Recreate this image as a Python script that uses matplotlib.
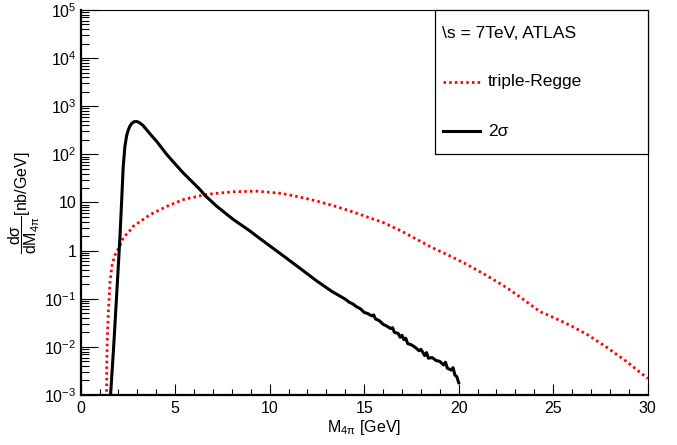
import matplotlib
matplotlib.use("Agg")
import matplotlib.pyplot as plt
from matplotlib.ticker import FixedLocator, LogLocator, NullFormatter, MultipleLocator
from matplotlib.patches import Rectangle
from matplotlib.lines import Line2D

plt.rcParams['font.family'] = ['Liberation Sans', 'DejaVu Sans']
plt.rcParams['mathtext.fontset'] = 'custom'
plt.rcParams['mathtext.rm'] = 'Liberation Sans'
plt.rcParams['mathtext.it'] = 'Liberation Sans'
plt.rcParams['mathtext.sf'] = 'Liberation Sans'

###############################################################################
# Curves (M in GeV, dsigma/dM in nb/GeV)
m_2sigma = [1.58, 1.75, 1.90, 2.08, 2.17, 2.25, 2.34, 2.43, 2.52, 2.61, 2.70,
            2.80, 2.93, 3.04, 3.14, 3.30, 3.49, 3.75, 4.02, 4.55, 5.00, 5.43,
            6.31, 6.58, 7.19, 8.07, 8.96, 9.31, 10.0, 10.72, 11.6, 12.49,
            13.3, 14.0, 14.2, 14.4, 14.6, 14.8, 15.0, 15.2, 15.4, 15.5, 15.6,
            15.8, 16.0, 16.2, 16.4, 16.5, 16.6, 16.8, 16.9, 17.0, 17.1, 17.2,
            17.3, 17.5, 17.7, 17.9, 18.0, 18.2, 18.3, 18.4, 18.6, 18.8, 19.0,
            19.2, 19.3, 19.4, 19.6, 19.7, 19.8, 19.9, 20.0]
xs_2sigma = [1.0e-3, 0.011, 0.115, 2.0, 11.5, 56, 148, 245, 324, 390, 437,
             472, 484, 470, 447, 398, 324, 245, 186, 100, 63, 41,
             18.6, 14.0, 8.4, 4.45, 2.55, 2.0, 1.26, 0.78, 0.43, 0.234,
             0.141, 0.098, 0.085, 0.078, 0.068, 0.062, 0.052, 0.049, 0.044,
             0.046, 0.038, 0.035, 0.0295, 0.0269, 0.024, 0.025, 0.020, 0.019,
             0.0158, 0.0174, 0.0141, 0.0151, 0.0117, 0.011, 0.0098, 0.0083,
             0.0089, 0.0066, 0.0076, 0.0058, 0.006, 0.0052, 0.005, 0.0042,
             0.0048, 0.0036, 0.0033, 0.0037, 0.0026, 0.0024, 0.0018]

m_regge = [1.37, 1.38, 1.41, 1.46, 1.55, 1.65, 1.80, 2.08, 2.25, 2.60, 2.78,
           3.67, 4.55, 5.43, 6.67, 8.07, 9.31, 10.6, 11.5, 12.5, 13.4, 14.25,
           15.1, 16.0, 16.9, 17.8, 18.6, 19.5, 20.5, 21.5, 22.5, 23.3, 24.3,
           25.0, 25.9, 26.8, 27.8, 28.9, 30.0]
xs_regge = [8.9e-4, 0.004, 0.016, 0.05, 0.22, 0.48, 0.79, 1.26, 1.85, 2.6,
            3.2, 5.6, 8.3, 11.5, 14.8, 16.7, 17.2, 15.5, 13.2, 10.7, 8.5,
            6.67, 5.1, 3.84, 2.63, 1.70, 1.15, 0.79, 0.50, 0.30, 0.174, 0.105,
            0.054, 0.041, 0.028, 0.018, 0.010, 0.0049, 0.0022]

y_ticks = [1e-3, 1e-2, 1e-1, 1, 10, 1e2, 1e3, 1e4, 1e5]
y_tick_labels = [r'$10^{-3}$', r'$10^{-2}$', r'$10^{-1}$', '1', '10',
                 r'$10^{2}$', r'$10^{3}$', r'$10^{4}$', r'$10^{5}$']

###############################################################################
fig = plt.figure(figsize=(6.77, 4.45), dpi=100)
ax = fig.add_axes([0.1192, 0.1124, 0.8375, 0.8651])

ax.plot(m_regge, xs_regge, color='red', lw=2.0, linestyle=(0, (0.9, 1.15)),
        dash_capstyle='butt')
ax.plot(m_2sigma, xs_2sigma, color='black', lw=2.2)

ax.set_yscale('log')
ax.set_xlim(0, 30)
ax.set_ylim(1e-3, 1e5)

ax.xaxis.set_major_locator(MultipleLocator(5))
ax.xaxis.set_minor_locator(MultipleLocator(1))
ax.yaxis.set_major_locator(FixedLocator(y_ticks))
ax.set_yticklabels(y_tick_labels)
ax.yaxis.set_minor_locator(LogLocator(base=10, subs=range(2, 10), numticks=20))
ax.yaxis.set_minor_formatter(NullFormatter())

ax.tick_params(which='both', direction='in', top=False, right=False,
               labelsize=11.5, width=0.8)
ax.tick_params(axis='y', which='major', length=12, pad=3)
ax.tick_params(axis='y', which='minor', length=6)
ax.tick_params(axis='x', which='major', length=8, pad=4)
ax.tick_params(axis='x', which='minor', length=4)

for side in ['left', 'bottom']:
    ax.spines[side].set_linewidth(1.6)
for side in ['top', 'right']:
    ax.spines[side].set_linewidth(0.8)

ax.set_xlabel(r'M$_{4\pi}$ [GeV]', fontsize=11.5)
ax.xaxis.set_label_coords(0.5, -0.06)
ax.set_ylabel(r'$\dfrac{d\sigma}{dM_{4\pi}}$[nb/GeV]', fontsize=11.5)
ax.yaxis.set_label_coords(-0.068, 0.5)

# legend box, drawn by hand like the ROOT TLegend
leg_fs = 12.5
ax.add_patch(Rectangle((0.625, 0.626), 0.375, 0.374, transform=ax.transAxes,
                       facecolor='white', edgecolor='black', lw=0.9,
                       clip_on=False, zorder=5))
ax.text(0.6367, 0.9395, '\\s = 7TeV, ATLAS', transform=ax.transAxes,
        fontsize=leg_fs, va='center', zorder=6)
ax.add_line(Line2D([0.6385, 0.704], [0.8138, 0.8138], transform=ax.transAxes,
                   color='red', lw=2.0, linestyle=(0, (0.9, 1.15)),
                   dash_capstyle='butt', zorder=6))
ax.text(0.718, 0.8138, 'triple-Regge', transform=ax.transAxes,
        fontsize=leg_fs, va='center', zorder=6)
ax.add_line(Line2D([0.6385, 0.704], [0.6857, 0.6857], transform=ax.transAxes,
                   color='black', lw=2.2, zorder=6))
ax.text(0.718, 0.6857, '2σ', transform=ax.transAxes,
        fontsize=leg_fs, va='center', zorder=6)

fig.savefig('out.png', dpi=100)
